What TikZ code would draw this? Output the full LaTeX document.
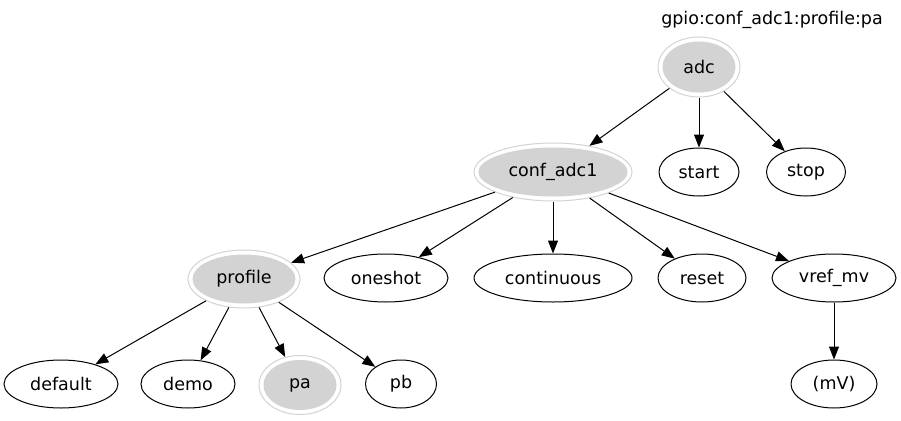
\documentclass[tikz,border=0pt]{standalone}
\usepackage{fontspec}
\setmainfont{DejaVu Sans}
\usetikzlibrary{shapes.geometric,arrows.meta}
\definecolor{lgray}{RGB}{211,211,211}

\tikzset{
  leaf/.style={ellipse, draw, line width=1pt, inner sep=0pt, minimum width=#1, minimum height=48pt},
  dbl/.style 2 args={ellipse, draw=lgray, line width=1pt, inner sep=0pt, minimum width=#1, minimum height=#2,
    path picture={\fill[lgray] (path picture bounding box.center) ellipse ({#1/2-4.5pt} and {#2/2-4.5pt});}},
  edge/.style={-{Triangle[length=13pt,width=10pt]}, line width=1pt}
}

\begin{document}
\begin{tikzpicture}[x=1pt,y=-1pt,font=\fontsize{17.5}{20}\selectfont]
  \useasboundingbox[fill=white] (0,0) rectangle (901,420);

  \node (title) at (772,20) {gpio:conf\_adc1:profile:pa};

  \node[dbl={82pt}{60pt}] (adc) at (699,67) {adc};
  \node[dbl={158pt}{58pt}] (conf) at (553,172) {conf\_adc1};
  \node[leaf=80pt] (start) at (699,172) {start};
  \node[leaf=79pt] (stop) at (806,172) {stop};

  \node[dbl={112pt}{58pt}] (profile) at (244,279) {profile};
  \node[leaf=124pt] (oneshot) at (386,278) {oneshot};
  \node[leaf=158pt] (continuous) at (553,278) {continuous};
  \node[leaf=88pt] (reset) at (702,278) {reset};
  \node[leaf=124pt] (vref) at (834,278) {vref\_mv};

  \node[leaf=114pt] (default) at (61,384) {default};
  \node[leaf=94pt] (demo) at (188,384) {demo};
  \node[dbl={82pt}{59pt}] (pa) at (300,385) {pa};
  \node[leaf=71pt] (pb) at (401,384) {pb};
  \node[leaf=86pt] (mv) at (834,384) {(mV)};

  \draw[edge] (adc) -- (conf);
  \draw[edge] (adc) -- (start);
  \draw[edge] (adc) -- (stop);
  \draw[edge] (conf) -- (profile);
  \draw[edge] (conf) -- (oneshot);
  \draw[edge] (conf) -- (continuous);
  \draw[edge] (conf) -- (reset);
  \draw[edge] (conf) -- (vref);
  \draw[edge] (profile) -- (default);
  \draw[edge] (profile) -- (demo);
  \draw[edge] (profile) -- (pa);
  \draw[edge] (profile) -- (pb);
  \draw[edge] (vref) -- (mv);
\end{tikzpicture}
\end{document}
